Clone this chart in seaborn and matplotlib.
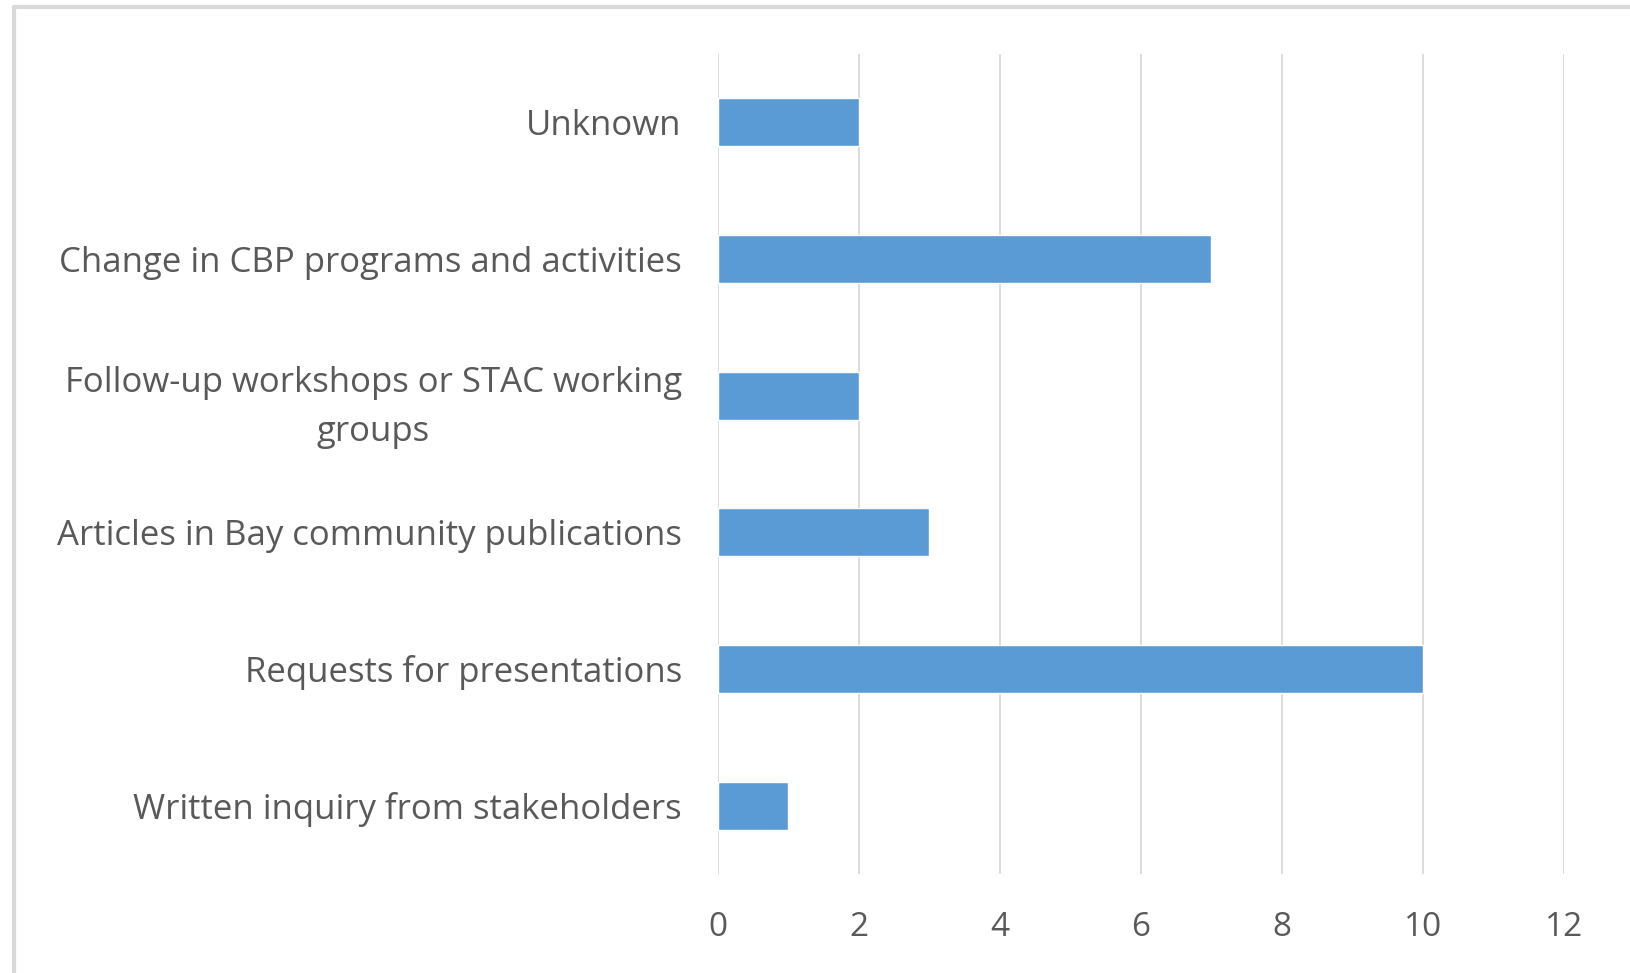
import seaborn as sns
import matplotlib.pyplot as plt
import pandas as pd
from matplotlib.lines import Line2D

categories = ['Unknown',
              'Change in CBP programs and activities',
              'Follow-up workshops or STAC working\ngroups',
              'Articles in Bay community publications',
              'Requests for presentations',
              'Written inquiry from stakeholders']
counts = [2, 7, 2, 3, 10, 1]
xticks = [0, 2, 4, 6, 8, 10, 12]

df = pd.DataFrame({'category': categories, 'count': counts})

sns.set_style('white')
plt.rcParams['font.family'] = ['Open Sans', 'DejaVu Sans']

fig = plt.figure(figsize=(16.31, 9.73), dpi=100)
ax = fig.add_axes([0.4402, 0.1018, 0.5187, 0.8427])

sns.barplot(data=df, x='count', y='category', orient='h', color='#5B9BD5',
            width=0.35, saturation=1, ax=ax, zorder=3)

ax.set_xlim(0, 12)
ax.set_ylim(5.5, -0.5)
ax.set_xticks(xticks)
ax.set_xlabel('')
ax.set_ylabel('')
ax.grid(axis='x', color='#D9D9D9', linewidth=1.3, zorder=0)
for s in ax.spines.values():
    s.set_visible(False)
ax.tick_params(axis='x', length=0, pad=27, labelsize=24, labelcolor='#595959')
ax.tick_params(axis='y', length=0, pad=26, labelsize=25, labelcolor='#595959')
for lab in ax.get_yticklabels():
    lab.set_multialignment('center')
    lab.set_linespacing(1.6)

# outer chart border
fig.add_artist(Line2D([0.0085, 0.0085], [0, 0.9928], color='#D9D9D9',
                      linewidth=3, transform=fig.transFigure))
fig.add_artist(Line2D([0.0085, 1], [0.9928, 0.9928], color='#D9D9D9',
                      linewidth=3, transform=fig.transFigure))

fig.savefig('out.png', dpi=100, facecolor='white')
